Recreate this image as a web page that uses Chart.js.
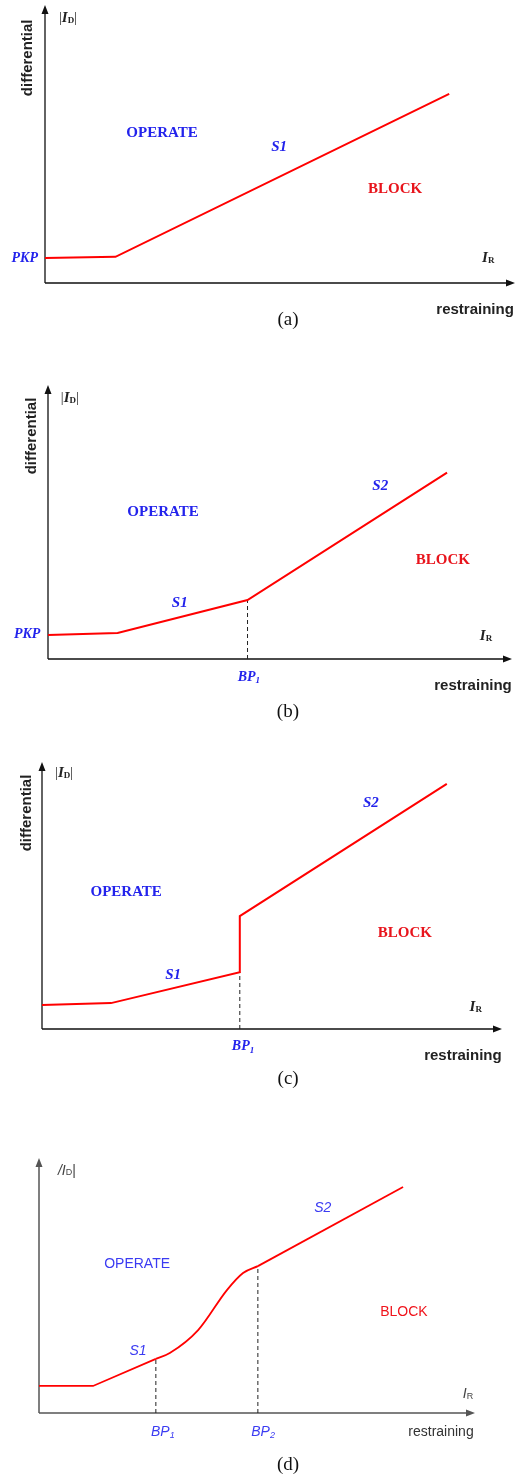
<!DOCTYPE html>
<html>
<head>
<meta charset="utf-8">
<script src="https://cdn.jsdelivr.net/npm/chart.js@4.4.1/dist/chart.umd.min.js"></script>
<style>
  html, body { margin: 0; padding: 0; background: #fff; }
  .panel { position: absolute; left: 0; }
</style>
</head>
<body>
<div class="panel" style="top:0"><canvas id="chartA" width="530" height="335"></canvas></div>
<div class="panel" style="top:335px"><canvas id="chartB" width="530" height="390"></canvas></div>
<div class="panel" style="top:725px"><canvas id="chartC" width="530" height="365"></canvas></div>
<div class="panel" style="top:1090px"><canvas id="chartD" width="530" height="388"></canvas></div>
<script>
/* characteristic curves, restraining (x) vs differential (y), arbitrary units 0..100 */
const aX = [0, 15, 86];
const aY = [9, 9.4, 68];

const bX = [0, 15, 43, 86];
const bY = [8.8, 9.5, 21.5, 68];
const bBP = [43];
const bBPy = [21.5];

const cX = [0, 15, 43, 43, 88];
const cY = [9, 9.7, 21.3, 42.3, 91.8];
const cBP = [43];
const cBPy = [21.3];

const dLowX = [0, 12.4, 26.8];
const dLowY = [10.6, 10.6, 21.2];
const dCurveX = [26.8, 30, 36.5, 43.1, 46.8, 50.2];
const dCurveY = [21.2, 23.5, 32.5, 48.2, 54.9, 57.6];
const dHighX = [50.2, 83.5];
const dHighY = [57.6, 88.6];
const dBP = [26.8, 50.2];
const dBPy = [21.2, 57.6];

const SERIF = '"Liberation Serif", "DejaVu Serif", serif';
const SANS = '"Liberation Sans", Arial, sans-serif';
const BLUE = '#2323ec';
const BLUE_D = '#3b3bf2';
const RED = '#ff0000';

const pts = (xs, ys) => xs.map((v, i) => ({ x: v, y: ys[i] }));

function curve(xs, ys, width, tension) {
  return {
    data: pts(xs, ys),
    borderColor: RED,
    borderWidth: width,
    tension: tension || 0,
    cubicInterpolationMode: tension ? 'monotone' : 'default',
    pointRadius: 0,
    clip: false
  };
}

function dashes(bps, tops) {
  return bps.map((b, i) => ({
    data: [{ x: b, y: 0 }, { x: b, y: tops[i] }],
    borderColor: '#222',
    borderWidth: 1,
    borderDash: [4, 3],
    pointRadius: 0,
    clip: false
  }));
}

/* axes with arrowheads + annotation text */
const decor = {
  id: 'decor',
  beforeDatasetsDraw(chart, args, opts) {
    const { ctx, scales: { x, y } } = chart;
    const x0 = x.getPixelForValue(0), y0 = y.getPixelForValue(0);
    const xe = x.getPixelForValue(100), ye = y.getPixelForValue(100);
    ctx.save();
    ctx.strokeStyle = opts.axisColor;
    ctx.fillStyle = opts.axisColor;
    ctx.lineWidth = opts.axisWidth;
    ctx.beginPath();
    ctx.moveTo(x0, y0); ctx.lineTo(x0, ye + 6);
    ctx.moveTo(x0, y0); ctx.lineTo(xe - 6, y0);
    ctx.stroke();
    ctx.beginPath();
    ctx.moveTo(x0, ye); ctx.lineTo(x0 - 3.5, ye + 9); ctx.lineTo(x0 + 3.5, ye + 9); ctx.closePath();
    ctx.moveTo(xe, y0); ctx.lineTo(xe - 9, y0 - 3.5); ctx.lineTo(xe - 9, y0 + 3.5); ctx.closePath();
    ctx.fill();
    ctx.restore();
  },
  afterDatasetsDraw(chart, args, opts) {
    const { ctx, scales: { x, y } } = chart;
    ctx.save();
    ctx.textBaseline = 'middle';
    ctx.textAlign = 'left';
    (opts.labels || []).forEach(l => {
      const px = x.getPixelForValue(l.x), py = y.getPixelForValue(l.y);
      ctx.fillStyle = l.color;
      ctx.save();
      ctx.translate(px, py);
      if (l.rot) ctx.rotate(l.rot);
      let w = 0;
      l.parts.forEach(p => { ctx.font = p[1]; w += ctx.measureText(p[0]).width; });
      let cx = -w / 2;
      l.parts.forEach(p => {
        ctx.font = p[1];
        ctx.fillText(p[0], cx, p[2] || 0);
        cx += ctx.measureText(p[0]).width;
      });
      ctx.restore();
    });
    ctx.restore();
  }
};

function serifLabels(o) {
  const L = [
    { x: o.id[0], y: o.id[1], color: '#222', parts: [['|', '14px ' + SERIF], ['I', 'italic bold 15px ' + SERIF], ['D', 'bold 9px ' + SERIF, 3], ['|', '14px ' + SERIF]] },
    { x: o.diff[0], y: o.diff[1], color: '#222', rot: -Math.PI / 2, parts: [['differential', 'bold 15px ' + SANS]] },
    { x: o.op[0], y: o.op[1], color: BLUE, parts: [['OPERATE', 'bold 15px ' + SERIF]] },
    { x: o.bl[0], y: o.bl[1], color: '#e8141c', parts: [['BLOCK', 'bold 15px ' + SERIF]] },
    { x: o.ir[0], y: o.ir[1], color: '#222', parts: [['I', 'italic bold 15px ' + SERIF], ['R', 'bold 9px ' + SERIF, 3]] },
    { x: o.rs[0], y: o.rs[1], color: '#222', parts: [['restraining', 'bold 15px ' + SANS]] },
    { x: o.cap[0], y: o.cap[1], color: '#111', parts: [[o.capText, '19px ' + SERIF]] }
  ];
  if (o.pkp) L.push({ x: o.pkp[0], y: o.pkp[1], color: BLUE, parts: [['PKP', 'italic bold 14px ' + SERIF]] });
  if (o.s1) L.push({ x: o.s1[0], y: o.s1[1], color: BLUE, parts: [['S1', 'italic bold 15px ' + SERIF]] });
  if (o.s2) L.push({ x: o.s2[0], y: o.s2[1], color: BLUE, parts: [['S2', 'italic bold 15px ' + SERIF]] });
  if (o.bp) L.push({ x: o.bp[0], y: o.bp[1], color: BLUE, parts: [['BP', 'italic bold 14px ' + SERIF], ['1', 'italic bold 9px ' + SERIF, 4]] });
  return L;
}

function makeChart(id, datasets, pad, labels, axisColor, axisWidth) {
  return new Chart(document.getElementById(id), {
    type: 'line',
    data: { datasets: datasets },
    options: {
      responsive: false,
      animation: false,
      events: [],
      layout: { padding: pad },
      plugins: {
        legend: { display: false },
        tooltip: { enabled: false },
        decor: { labels: labels, axisColor: axisColor, axisWidth: axisWidth }
      },
      scales: {
        x: { type: 'linear', min: 0, max: 100, display: false },
        y: { type: 'linear', min: 0, max: 100, display: false }
      }
    },
    plugins: [decor]
  });
}

/* (a) */
makeChart('chartA', [curve(aX, aY, 2)],
  { left: 45, right: 15, top: 5, bottom: 52 },
  serifLabels({
    id: [4.9, 95.3], diff: [-3.6, 81], op: [24.9, 54], bl: [74.5, 33.8],
    ir: [94.3, 9], rs: [91.5, -9.7], cap: [51.7, -13.3], capText: '(a)',
    pkp: [-4.3, 9], s1: [49.8, 48.9]
  }), '#111', 1.3);

/* (b) */
makeChart('chartB', [curve(bX, bY, 2)].concat(dashes(bBP, bBPy)),
  { left: 48, right: 18, top: 50, bottom: 66 },
  serifLabels({
    id: [4.7, 95.3], diff: [-3.4, 81.4], op: [24.8, 53.6], bl: [85.1, 36.1],
    ir: [94.4, 8.4], rs: [91.6, -9.9], cap: [51.7, -19.3], capText: '(b)',
    pkp: [-4.5, 8.8], s1: [28.4, 20.4], s2: [71.6, 63.1], bp: [43.3, -6.6]
  }), '#111', 1.3);

/* (c) */
makeChart('chartC', [curve(cX, cY, 2)].concat(dashes(cBP, cBPy)),
  { left: 42, right: 28, top: 37, bottom: 61 },
  serifLabels({
    id: [4.8, 95.9], diff: [-3.3, 80.9], op: [18.3, 51.3], bl: [78.9, 36],
    ir: [94.3, 8.2], rs: [91.5, -10.1], cap: [53.5, -18.7], capText: '(c)',
    s1: [28.5, 20.2], s2: [71.5, 84.6], bp: [43.7, -6.7]
  }), '#111', 1.3);

/* (d) */
const dLabels = [
  { x: 6.4, y: 94.9, color: '#444', parts: [['/I', 'italic 14px ' + SANS], ['D', '9px ' + SANS, 2], ['|', '14px ' + SANS]] },
  { x: 22.5, y: 58.4, color: BLUE_D, parts: [['OPERATE', '14px ' + SANS]] },
  { x: 83.7, y: 39.6, color: '#f0141c', parts: [['BLOCK', '14px ' + SANS]] },
  { x: 22.7, y: 24.3, color: BLUE_D, parts: [['S1', 'italic 14px ' + SANS]] },
  { x: 65.1, y: 80.4, color: BLUE_D, parts: [['S2', 'italic 14px ' + SANS]] },
  { x: 98.4, y: 7.5, color: '#444', parts: [['I', 'italic 14px ' + SANS], ['R', '9px ' + SANS, 3]] },
  { x: 28.4, y: -7.5, color: BLUE_D, parts: [['BP', 'italic 14px ' + SANS], ['1', 'italic 9px ' + SANS, 3]] },
  { x: 51.4, y: -7.5, color: BLUE_D, parts: [['BP', 'italic 14px ' + SANS], ['2', 'italic 9px ' + SANS, 3]] },
  { x: 92.2, y: -7.5, color: '#333', parts: [['restraining', '14px ' + SANS]] },
  { x: 57.1, y: -20.4, color: '#111', parts: [['(d)', '19px ' + SERIF]] }
];
makeChart('chartD',
  [curve(dLowX, dLowY, 1.8), curve(dCurveX, dCurveY, 1.8, 0.4), curve(dHighX, dHighY, 1.8)].concat(dashes(dBP, dBPy)),
  { left: 39, right: 55, top: 68, bottom: 65 },
  dLabels, '#555', 1.5);
</script>
</body>
</html>
